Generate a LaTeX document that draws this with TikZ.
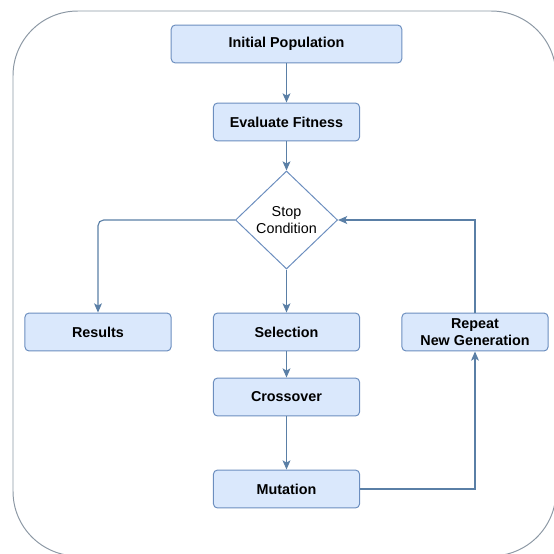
\documentclass[tikz,border=0pt]{standalone}
\usepackage{fontspec}
\setmainfont{Liberation Sans}
\usetikzlibrary{shapes.geometric, arrows.meta}

\definecolor{boxfill}{HTML}{DAE8FC}
\definecolor{boxline}{HTML}{6C8EBF}
\definecolor{flowline}{HTML}{5A7FA6}
\definecolor{frameline}{HTML}{8C98A4}

\tikzset{
    stage/.style={draw=boxline, fill=boxfill, line width=0.7pt, rounded corners=3pt,
        minimum width=104pt, minimum height=27pt, inner sep=1pt, align=center,
        font=\fontsize{10.2}{12.6}\selectfont\bfseries},
    decision/.style={draw=boxline, fill=white, line width=0.7pt, diamond,
        minimum width=72.6pt, minimum height=69.7pt, inner sep=0pt, align=center,
        font=\fontsize{10.2}{12.2}\selectfont},
    flow/.style={draw=flowline, line width=0.8pt, -{Stealth[length=6.5pt, width=5.6pt, inset=1.5pt]}},
}

\begin{document}
\begin{tikzpicture}[x=0.025cm, y=-0.025cm]
        \useasboundingbox (0, 0) rectangle (554, 554);
        \draw [frameline, line width=0.7pt, rounded corners=46pt] (13, 11) rectangle (556, 556);

        \node [stage, minimum width=164pt] (init) at (286.5, 44) {Initial Population};
        \node [stage] (eval) at (286.5, 122) {Evaluate Fitness};
        \node [decision] (cond) at (286.5, 220) {Stop\\Condition};
        \node [stage] (results) at (98, 332) {Results};
        \node [stage] (select) at (286.5, 332) {Selection};
        \node [stage] (repeat) at (475, 332) {Repeat\\New Generation};
        \node [stage] (cross) at (286.5, 397) {Crossover};
        \node [stage] (mutate) at (286.5, 489) {Mutation};

        \draw [flow] (init) -- (eval);
        \draw [flow] (eval) -- (cond);
        \draw [flow, rounded corners=4pt] (cond.west) -| (results);
        \draw [flow] (cond) -- (select);
        \draw [flow] (select) -- (cross);
        \draw [flow] (cross) -- (mutate);
        \draw [flow] (mutate) -| (repeat);
        \draw [flow] (repeat) |- (cond.east);
    \end{tikzpicture}
\end{document}
